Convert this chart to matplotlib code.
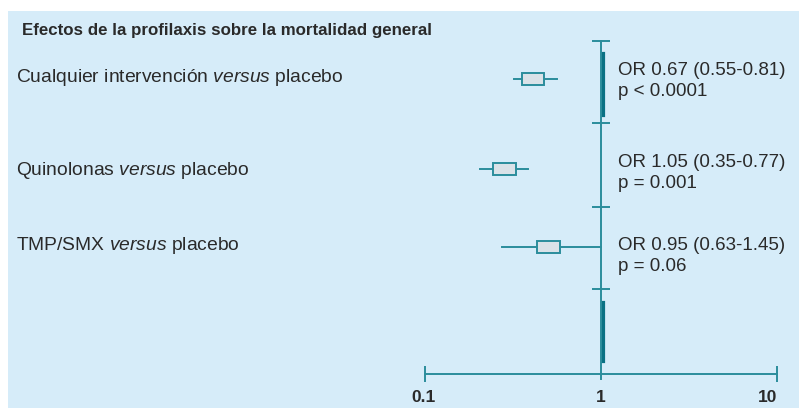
import matplotlib
matplotlib.use("Agg")
import matplotlib.pyplot as plt
from matplotlib.patches import Rectangle

plt.rcParams['font.family'] = ['Liberation Sans', 'DejaVu Sans']
plt.rcParams['mathtext.fontset'] = 'custom'
plt.rcParams['mathtext.rm'] = 'Liberation Sans'
plt.rcParams['mathtext.it'] = 'Liberation Sans:italic'

# data
title = "Efectos de la profilaxis sobre la mortalidad general"
labels = ["Cualquier intervención $\\it{versus}$ placebo",
          "Quinolonas $\\it{versus}$ placebo",
          "TMP/SMX $\\it{versus}$ placebo"]
ci_lo = [0.32, 0.205, 0.274]
ci_hi = [0.56, 0.385, 1.0]
box_lo = [0.356, 0.243, 0.433]
box_hi = [0.474, 0.329, 0.585]
or_text = ["OR 0.67 (0.55-0.81)", "OR 1.05 (0.35-0.77)", "OR 0.95 (0.63-1.45)"]
p_text = ["p < 0.0001", "p = 0.001", "p = 0.06"]
axis_ticks = [0.1, 1, 10]
axis_labels = ["0.1", "1", "10"]

# layout (pixel rows, y grows downward)
W, H = 799, 408
row_y = [79, 169, 247]
label_base = [82, 175, 250]
or_base = [75, 167, 250]
sep_y = [41, 123, 207, 289]
axis_y = 374

teal = "#2b8d9c"
dark = "#0a7184"
bg = "#d6ecf9"
txt = "#2a2a2a"

fig = plt.figure(figsize=(W / 100, H / 100), dpi=100)
ax = fig.add_axes([0, 0, 1, 1])
ax.set_xscale('log')
ax.set_xlim(10 ** (-601 / 176), 10 ** (198 / 176))
ax.set_ylim(H, 0)
ax.axis('off')

ax.add_patch(Rectangle((8 / W, 0), 1 - 8 / W, (H - 11) / H, transform=ax.transAxes,
                       facecolor=bg, edgecolor='none', zorder=0))

# reference line at 1 with separators
ax.plot([1, 1], [sep_y[0], 379], color=teal, lw=1.4, zorder=2)
ax.plot([1] * len(sep_y), sep_y, ls='none', marker='_', ms=12.5, mew=1.4, color=teal, zorder=2)
ax.plot([1.026, 1.026], [53, 115], color=dark, lw=2.3, zorder=3)
ax.plot([1.026, 1.026], [302, 361], color=dark, lw=2.3, zorder=3)

# bottom axis
ax.plot([axis_ticks[0], axis_ticks[-1]], [axis_y, axis_y], color=teal, lw=1.4)
ax.plot([axis_ticks[0], axis_ticks[-1]], [axis_y, axis_y], ls='none', marker='|',
        ms=11, mew=1.4, color=teal)
offs = [-2, 0, -9]
for v, s, o in zip(axis_ticks, axis_labels, offs):
    ax.annotate(s, (v, axis_y), xytext=(o, -24), textcoords='offset pixels',
                ha='center', va='center', fontsize=12.5, fontweight='bold', color=txt)

# intervals
for i, y in enumerate(row_y):
    ax.plot([ci_lo[i], ci_hi[i]], [y, y], color=teal, lw=1.4, zorder=3)
    ax.add_patch(Rectangle((box_lo[i], y - 6), box_hi[i] - box_lo[i], 12,
                           facecolor="#dae2e8", edgecolor=teal, lw=1.4, zorder=4))

# texts
yt = ax.get_yaxis_transform()
ax.text(22 / W, 30, title, transform=yt, fontsize=12.2, fontweight='bold',
        color=txt, va='center', ha='left')
for i in range(3):
    ax.text(16 / W, label_base[i], labels[i], transform=yt, fontsize=13.9,
            color=txt, va='baseline', ha='left')
    ax.text(618 / W, or_base[i], or_text[i], transform=yt, fontsize=13.5,
            color=txt, va='baseline', ha='left')
    ax.text(618 / W, or_base[i] + 21, p_text[i], transform=yt, fontsize=13.5,
            color=txt, va='baseline', ha='left')

fig.savefig("out.png", dpi=100, facecolor='white')
